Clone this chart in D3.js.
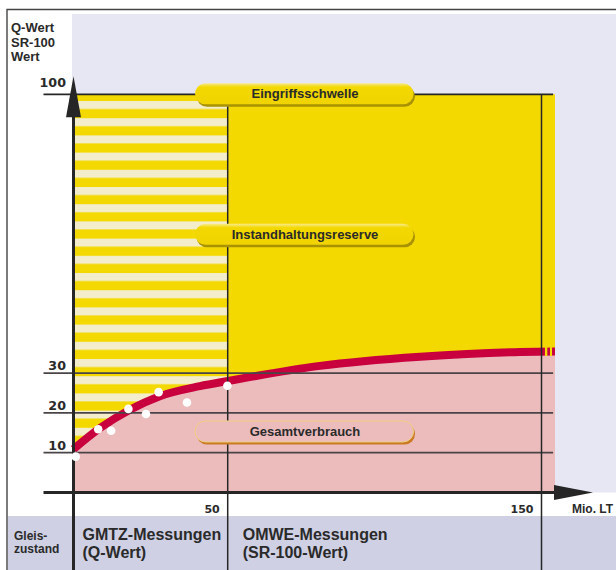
<!DOCTYPE html>
<html>
<head>
  <meta charset="utf-8">
  <title>Gleiszustand: Q-Wert / SR-100-Wert</title>
  <script src="https://d3js.org/d3.v7.min.js"></script>
  <style>
    body { margin: 0; background: #fff; }
    svg text { font-family: "Liberation Sans", Arial, sans-serif; font-weight: bold; fill: #2a2a2a; }
    .num { font-family: "DejaVu Sans", sans-serif; }
  </style>
</head>
<body>
  <svg width="616" height="570"></svg>
  <script>
    // data
    const curveX = [0, 8.6, 18.3, 28.0, 41.0, 50.1, 79.4, 111.3, 143.2, 154.3];
    const curveY = [10.9, 16.2, 20.8, 24.2, 26.7, 28.0, 31.8, 34.1, 35.3, 35.4];
    const dotX = [0.7, 8.0, 12.2, 17.8, 23.5, 27.6, 36.8, 49.9];
    const dotY = [9.0, 15.9, 15.5, 21.0, 19.7, 25.2, 22.6, 26.8];
    const yTicks = [10, 20, 30, 100];
    const xTicks = [50, 150];
    const xMax = 154.3;
    const tailGaps = [[151.1, 151.85], [152.7, 153.35]];
    const pillNames = ["Eingriffsschwelle", "Instandhaltungsreserve", "Gesamtverbrauch"];
    const pillY = [100, 64.7, 15.2];
    const pillX = [39.4, 109.7];
    const yTitle = ["Q-Wert", "SR-100", "Wert"];
    const rowTitle = ["Gleis-", "zustand"];
    const zoneStart = [0, 50];
    const zoneLabels = [["GMTZ-Messungen", "(Q-Wert)"], ["OMWE-Messungen", "(SR-100-Wert)"]];

    const svg = d3.select("svg"),
          width = +svg.attr("width"),
          height = +svg.attr("height");

    const x = d3.scaleLinear().domain([0, 50, 150]).range([73.5, 227.7, 541.5]);
    const y = d3.scaleLinear().domain([0, 100]).range([492.5, 94.3]);

    const yellow = "#f3d900", pale = "#f3edcc", pink = "#ecbcbd", red = "#c8003e", ink = "#262626";
    const bandTop = 516;

    const defs = svg.append("defs");
    const pat = defs.append("pattern")
      .attr("id", "stripes")
      .attr("patternUnits", "userSpaceOnUse")
      .attr("x", 0).attr("y", y(100))
      .attr("width", 20).attr("height", 17.2);
    pat.append("rect").attr("width", 20).attr("height", 17.2).attr("fill", yellow);
    pat.append("rect").attr("y", 6.7).attr("width", 20).attr("height", 8).attr("fill", pale);

    const grad = defs.append("linearGradient").attr("id", "pillGrad")
      .attr("x1", 0).attr("y1", 0).attr("x2", 0).attr("y2", 1);
    grad.append("stop").attr("offset", "0%").attr("stop-color", "#f8ea8c");
    grad.append("stop").attr("offset", "18%").attr("stop-color", yellow);
    grad.append("stop").attr("offset", "100%").attr("stop-color", "#f0d300");

    // backgrounds
    svg.append("rect").attr("x", 72).attr("y", 14)
      .attr("width", width - 72).attr("height", y(0) - 14).attr("fill", "#e7e7f3");
    svg.append("rect").attr("x", 8).attr("y", bandTop)
      .attr("width", width - 8).attr("height", height - bandTop).attr("fill", "#cfd0e4");
    svg.append("path").attr("d", `M7,${height} V9.5 H${width}`)
      .attr("fill", "none").attr("stroke", "#444").attr("stroke-width", 1.4);

    // zones
    svg.append("rect").attr("x", x(0)).attr("y", y(100))
      .attr("width", x(xMax) - x(0)).attr("height", y(0) - y(100)).attr("fill", yellow);
    svg.append("rect").attr("x", x(0)).attr("y", y(100))
      .attr("width", x(50) - x(0)).attr("height", y(0) - y(100)).attr("fill", "url(#stripes)");

    const pts = curveX.map((d, i) => [d, curveY[i]]);
    svg.append("path").datum(pts)
      .attr("fill", pink)
      .attr("d", d3.area().curve(d3.curveMonotoneX)
        .x(d => x(d[0])).y0(y(0)).y1(d => y(d[1])));

    svg.append("path").datum(pts)
      .attr("fill", "none").attr("stroke", red).attr("stroke-width", 8)
      .attr("d", d3.line().curve(d3.curveMonotoneX).x(d => x(d[0])).y(d => y(d[1])));

    const endY = y(curveY[curveY.length - 1]);
    svg.selectAll(".gap").data(tailGaps).join("rect")
      .attr("x", d => x(d[0])).attr("width", d => x(d[1]) - x(d[0]))
      .attr("y", endY - 4.5).attr("height", 9).attr("fill", yellow);

    // grid lines
    svg.selectAll(".hline").data(yTicks).join("line")
      .attr("x1", x(0) - 30).attr("x2", x(153.7))
      .attr("y1", d => y(d)).attr("y2", d => y(d))
      .attr("stroke", d => d === 100 ? ink : "#4a4448").attr("stroke-width", 1.7);

    svg.selectAll(".vline").data(xTicks).join("line")
      .attr("x1", d => x(d)).attr("x2", d => x(d))
      .attr("y1", y(100)).attr("y2", height)
      .attr("stroke", ink).attr("stroke-width", 1.5);

    // axes with arrows
    svg.append("line").attr("x1", x(0)).attr("x2", x(0))
      .attr("y1", height).attr("y2", y(100) + 20)
      .attr("stroke", ink).attr("stroke-width", 3);
    svg.append("path")
      .attr("d", `M${x(0)},${y(100) - 18} L${x(0) + 7.5},${y(100) + 23} L${x(0) - 7.5},${y(100) + 23} Z`)
      .attr("fill", ink);

    svg.append("line").attr("x1", x(0) - 30).attr("x2", x(xMax))
      .attr("y1", y(0)).attr("y2", y(0))
      .attr("stroke", ink).attr("stroke-width", 3);
    svg.append("path")
      .attr("d", `M${x(xMax) + 38},${y(0)} L${x(xMax) - 1},${y(0) - 7.5} L${x(xMax) - 1},${y(0) + 7.5} Z`)
      .attr("fill", ink);

    // dots
    svg.selectAll(".dot").data(dotX).join("circle")
      .attr("cx", d => x(d)).attr("cy", (d, i) => y(dotY[i]))
      .attr("r", 4.3).attr("fill", "#fff");

    // tick labels
    svg.selectAll(".ylab").data(yTicks).join("text")
      .attr("class", "num")
      .attr("x", 66).attr("y", d => y(d) - (d === 100 ? 7 : 3))
      .attr("text-anchor", "end").attr("font-size", 12.7)
      .text(d => d);
    svg.selectAll(".xlab").data(xTicks).join("text")
      .attr("class", "num")
      .attr("x", d => x(d) - 8).attr("y", 513)
      .attr("text-anchor", "end").attr("font-size", 11)
      .text(d => d);
    svg.append("text").attr("x", 572).attr("y", 513)
      .attr("font-size", 12).text("Mio. LT");

    svg.selectAll(".ytitle").data(yTitle).join("text")
      .attr("x", 11).attr("y", (d, i) => 32 + i * 14.7)
      .attr("font-size", 13).text(d => d);

    // bottom band labels
    svg.selectAll(".rtitle").data(rowTitle).join("text")
      .attr("x", 14).attr("y", (d, i) => 540 + i * 13)
      .attr("font-size", 12).text(d => d);

    zoneLabels.forEach((lines, k) => {
      svg.selectAll(".zone" + k).data(lines).join("text")
        .attr("x", x(zoneStart[k]) + (k === 0 ? 9 : 15)).attr("y", (d, i) => 540 + i * 18)
        .attr("font-size", 16).text(d => d);
    });

    // pills
    const pillH = 21, pillW = x(pillX[1]) - x(pillX[0]);
    pillNames.forEach((name, i) => {
      const cy = y(pillY[i]) - 0.5;
      const g = svg.append("g").attr("transform", `translate(${x(pillX[0])},${cy - pillH / 2})`);
      const isPink = i === 2;
      g.append("rect").attr("x", 1.5).attr("y", 2.5)
        .attr("width", pillW - 1.5).attr("height", pillH)
        .attr("rx", pillH / 2).attr("fill", isPink ? "#c97a22" : "#a89200");
      g.append("rect")
        .attr("width", pillW - 1.5).attr("height", pillH)
        .attr("rx", pillH / 2)
        .attr("fill", isPink ? pink : "url(#pillGrad)")
        .attr("stroke", isPink ? "#f0d080" : "none").attr("stroke-width", 1);
      g.append("text")
        .attr("x", pillW / 2).attr("y", pillH / 2 + 4.6)
        .attr("text-anchor", "middle").attr("font-size", 13)
        .text(name);
    });
  </script>
</body>
</html>
